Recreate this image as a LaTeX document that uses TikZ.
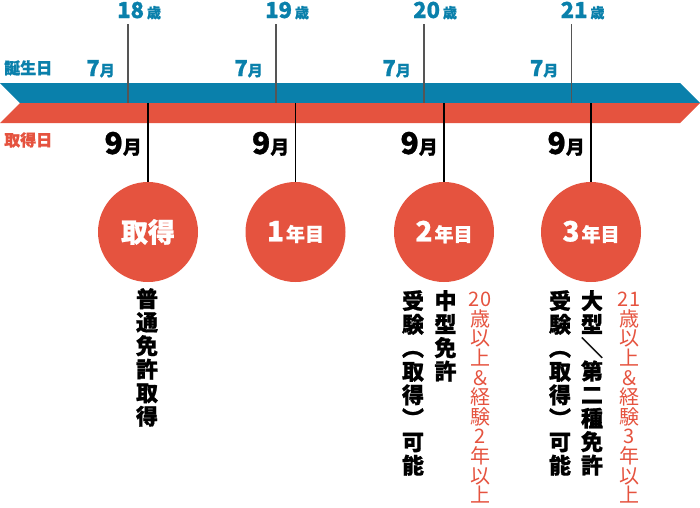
\documentclass[tikz,border=0pt]{standalone}
\usepackage{fontspec}
\setmainfont{Noto Sans CJK JP}[BoldFeatures={FakeBold=0.9}]
\usepackage{graphicx}
\definecolor{bl}{HTML}{0A80AB}
\definecolor{rd}{HTML}{E5533F}
\definecolor{tickgray}{HTML}{555555}
\newcommand\rp[1]{\rotatebox[origin=c]{-90}{#1}}
\newcommand\agetxt[1]{{\fontsize{22}{22}\selectfont #1}\hspace{3pt}{\fontsize{14}{14}\selectfont 歳}}
\newcommand\montxt[3]{{\fontsize{#2}{#2}\selectfont #1}{\fontsize{#3}{#3}\selectfont 月}}
\newcommand\yeartxt[1]{{\fontsize{28}{28}\selectfont #1}\hspace{2pt}{\fontsize{19}{19}\selectfont 年目}}
\tikzset{
  agelbl/.style={anchor=base west, text=bl, font=\bfseries, inner sep=0pt},
  bmon/.style={anchor=base east, text=bl, font=\bfseries, inner sep=0pt},
  kmon/.style={anchor=base east, text=black, font=\bfseries, inner sep=0pt},
  uptick/.style={draw=tickgray, line width=1.8pt},
  lowtick/.style={draw=black, line width=1.1pt},
  yearcirc/.style={circle, fill=rd, minimum size=100pt, inner sep=0pt, text=white, font=\bfseries},
  vblack/.style={anchor=north, align=center, inner sep=0pt, text=black, font=\bfseries\fontsize{22}{23.5}\selectfont},
  vred/.style={anchor=north, align=center, inner sep=0pt, text=rd, font=\fontsize{20}{19.6}\selectfont},
  sidelbl/.style={anchor=base west, inner sep=0pt, font=\bfseries\fontsize{16}{16}\selectfont}
}
\begin{document}
\begin{tikzpicture}[x=1pt,y=-1pt]
\useasboundingbox (0,0) rectangle (700,507);
% bands
\fill[bl] (0,83) -- (680,83) -- (700,103) -- (20,103) -- cycle;
\fill[rd] (20,103) -- (700,103) -- (680,123) -- (0,123) -- cycle;
% side labels
\node[sidelbl, text=bl] (birth) at (4,74) {誕生日};
\node[sidelbl, text=rd] (acq) at (4,146) {取得日};
% circles
\node[yearcirc] (c1) at (148,232) {\fontsize{27}{27}\selectfont 取得};
\node[yearcirc] (c2) at (295.5,232) {\yeartxt{1}};
\node[yearcirc] (c3) at (444,232) {\yeartxt{2}};
\node[yearcirc] (c4) at (591,232) {\yeartxt{3}};
% ticks and labels
\foreach \a/\b/\n/\i in {128/148/18/1, 276/295.5/19/2, 424/444/20/3, 571.5/591/21/4}{
  \coordinate (ut\i) at (\a,24);
  \coordinate (ub\i) at (\a,103);
  \coordinate (lt\i) at (\b,103);
  \draw[uptick] (ut\i) -- (ub\i);
  \draw[lowtick] (lt\i) -- (c\i.north);
  \node[agelbl] (age\i) at (\a-11,18) {\agetxt{\n}};
  \node[bmon] (jul\i) at (\a-13,76) {\montxt{7}{22}{15}};
  \node[kmon] (sep\i) at (\b-6,154) {\montxt{9}{30}{19}};
}
% vertical texts
\node[vblack] (v1) at (147,288) {普\\通\\免\\許\\取\\得};
\node[vblack] (v2a) at (413,290) {受\\験\\\rp{（}\\取\\得\\\rp{）}\\可\\能};
\node[vblack] (v2b) at (445.5,290) {中\\型\\免\\許};
\node[vred] (v2c) at (480,292) {20\\歳\\以\\上\\＆\\経\\験\\2\\年\\以\\上};
\node[vblack] (v3a) at (560,290) {受\\験\\\rp{（}\\取\\得\\\rp{）}\\可\\能};
\node[vblack] (v3b) at (592,290) {大\\型\\\rp{／}\\第\\二\\種\\免\\許};
\node[vred] (v3c) at (629,292) {21\\歳\\以\\上\\＆\\経\\験\\3\\年\\以\\上};
\end{tikzpicture}
\end{document}
